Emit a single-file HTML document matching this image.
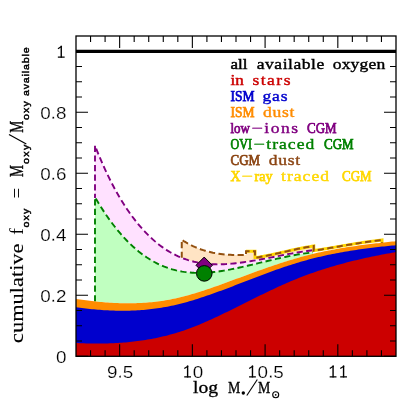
<!DOCTYPE html>
<html><head><meta charset="utf-8"><title>chart</title>
<style>html,body{margin:0;padding:0;background:#fff;}svg{display:block;will-change:transform;}</style></head>
<body>
<svg width="399" height="399" viewBox="0 0 399 399">
<rect width="399" height="399" fill="#fff"/>
<polygon points="181.75,239.79 183.70,241.04 185.64,242.22 187.59,243.34 189.54,244.39 191.48,245.38 193.43,246.31 195.38,247.18 197.33,247.99 199.27,248.75 201.22,249.46 203.17,250.11 205.11,250.71 207.06,251.27 209.01,251.78 210.95,252.24 212.90,252.67 214.85,253.05 216.80,253.39 218.74,253.69 220.69,253.96 222.64,254.20 224.58,254.40 226.53,254.58 228.48,254.72 230.42,254.84 232.37,254.94 234.32,255.01 236.27,255.06 238.21,255.09 240.16,255.11 242.11,255.11 244.05,255.09 246.00,255.07 246.00,251.25 255.00,251.25 255.00,257.80 256.96,257.49 258.92,257.16 260.88,256.81 262.83,256.45 264.79,256.08 266.75,255.69 268.71,255.29 270.67,254.88 272.62,254.46 274.58,254.03 276.54,253.60 278.50,253.16 280.46,252.72 282.42,252.28 284.38,251.84 286.33,251.40 288.29,250.96 290.25,250.52 292.21,250.09 294.17,249.66 296.12,249.24 298.08,248.83 300.04,248.43 302.00,248.04 303.96,247.67 305.92,247.30 307.88,246.95 309.83,246.62 311.79,246.31 313.75,246.01 313.00,250.22 311.02,250.46 309.04,250.71 307.05,250.98 305.07,251.27 303.09,251.56 301.11,251.87 299.13,252.19 297.15,252.52 295.16,252.86 293.18,253.21 291.20,253.56 289.22,253.92 287.24,254.29 285.25,254.66 283.27,255.04 281.29,255.42 279.31,255.81 277.33,256.19 275.35,256.58 273.36,256.97 271.38,257.35 269.40,257.74 267.42,258.12 265.44,258.50 263.45,258.87 261.47,259.24 259.49,259.61 257.51,259.97 255.53,260.32 253.55,260.66 251.56,260.99 249.58,261.32 247.60,261.63 245.62,261.93 243.64,262.22 241.65,262.50 239.67,262.76 237.69,263.01 235.71,263.24 233.73,263.45 231.75,263.64 229.76,263.81 227.78,263.97 225.80,264.09 223.82,264.19 221.84,264.27 219.85,264.32 217.87,264.34 215.89,264.32 213.91,264.28 211.93,264.20 209.95,264.09 207.96,263.94 205.98,263.75 204.00,263.52 202.02,263.25 200.04,262.94 198.05,262.59 196.07,262.19 194.09,261.75 192.11,261.25 190.13,260.71 188.15,260.12 186.16,259.47 184.18,258.77 182.20,258.02 181.75,257.83" fill="#ffe4c4"/>
<polygon points="95.00,145.57 96.98,150.58 98.96,155.43 100.95,160.13 102.93,164.67 104.91,169.07 106.89,173.32 108.87,177.44 110.85,181.41 112.84,185.25 114.82,188.96 116.80,192.54 118.78,196.01 120.76,199.35 122.75,202.57 124.73,205.68 126.71,208.68 128.69,211.58 130.67,214.37 132.65,217.06 134.64,219.66 136.62,222.17 138.60,224.58 140.58,226.91 142.56,229.15 144.55,231.31 146.53,233.38 148.51,235.37 150.49,237.28 152.47,239.11 154.45,240.87 156.44,242.54 158.42,244.14 160.40,245.67 162.38,247.13 164.36,248.51 166.35,249.83 168.33,251.07 170.31,252.25 172.29,253.37 174.27,254.42 176.25,255.41 178.24,256.34 180.22,257.21 182.20,258.02 184.18,258.77 186.16,259.47 188.15,260.12 190.13,260.71 192.11,261.25 194.09,261.75 196.07,262.19 198.05,262.59 200.04,262.94 202.02,263.25 204.00,263.52 205.98,263.75 207.96,263.94 209.95,264.09 211.93,264.20 213.91,264.28 215.89,264.32 217.87,264.34 219.85,264.32 221.84,264.27 223.82,264.19 225.80,264.09 227.78,263.97 229.76,263.81 231.75,263.64 233.73,263.45 235.71,263.24 237.69,263.01 239.67,262.76 241.65,262.50 243.64,262.22 245.62,261.93 247.60,261.63 249.58,261.32 251.56,260.99 253.55,260.66 255.53,260.32 257.51,259.97 259.49,259.61 261.47,259.24 263.45,258.87 265.44,258.50 267.42,258.12 269.40,257.74 271.38,257.35 273.36,256.97 275.35,256.58 277.33,256.19 279.31,255.81 281.29,255.42 283.27,255.04 285.25,254.66 287.24,254.29 289.22,253.92 291.20,253.56 293.18,253.21 295.16,252.86 297.15,252.52 299.13,252.19 301.11,251.87 303.09,251.56 305.07,251.27 307.05,250.98 309.04,250.71 311.02,250.46 313.00,250.22 313.00,252.38 311.02,252.60 309.04,252.84 307.05,253.10 305.07,253.37 303.09,253.66 301.11,253.97 299.13,254.30 297.15,254.64 295.16,254.99 293.18,255.36 291.20,255.74 289.22,256.13 287.24,256.54 285.25,256.95 283.27,257.37 281.29,257.80 279.31,258.24 277.33,258.69 275.35,259.14 273.36,259.60 271.38,260.07 269.40,260.54 267.42,261.01 265.44,261.48 263.45,261.96 261.47,262.43 259.49,262.91 257.51,263.39 255.53,263.86 253.55,264.34 251.56,264.81 249.58,265.28 247.60,265.74 245.62,266.20 243.64,266.65 241.65,267.10 239.67,267.53 237.69,267.96 235.71,268.39 233.73,268.80 231.75,269.19 229.76,269.58 227.78,269.95 225.80,270.30 223.82,270.64 221.84,270.96 219.85,271.26 217.87,271.54 215.89,271.80 213.91,272.03 211.93,272.24 209.95,272.42 207.96,272.58 205.98,272.71 204.00,272.81 202.02,272.88 200.04,272.91 198.05,272.92 196.07,272.88 194.09,272.82 192.11,272.71 190.13,272.57 188.15,272.39 186.16,272.16 184.18,271.90 182.20,271.59 180.22,271.23 178.24,270.83 176.25,270.39 174.27,269.89 172.29,269.35 170.31,268.75 168.33,268.10 166.35,267.40 164.36,266.65 162.38,265.84 160.40,264.98 158.42,264.05 156.44,263.07 154.45,262.03 152.47,260.92 150.49,259.76 148.51,258.53 146.53,257.24 144.55,255.88 142.56,254.45 140.58,252.95 138.60,251.39 136.62,249.75 134.64,248.05 132.65,246.27 130.67,244.41 128.69,242.48 126.71,240.48 124.73,238.39 122.75,236.23 120.76,233.99 118.78,231.67 116.80,229.27 114.82,226.79 112.84,224.23 110.85,221.58 108.87,218.84 106.89,216.02 104.91,213.11 102.93,210.12 100.95,207.03 98.96,203.86 96.98,200.60 95.00,197.24" fill="#ffe1ff"/>
<polygon points="95.00,197.24 96.98,200.60 98.96,203.86 100.95,207.03 102.93,210.12 104.91,213.11 106.89,216.02 108.87,218.84 110.85,221.58 112.84,224.23 114.82,226.79 116.80,229.27 118.78,231.67 120.76,233.99 122.75,236.23 124.73,238.39 126.71,240.48 128.69,242.48 130.67,244.41 132.65,246.27 134.64,248.05 136.62,249.75 138.60,251.39 140.58,252.95 142.56,254.45 144.55,255.88 146.53,257.24 148.51,258.53 150.49,259.76 152.47,260.92 154.45,262.03 156.44,263.07 158.42,264.05 160.40,264.98 162.38,265.84 164.36,266.65 166.35,267.40 168.33,268.10 170.31,268.75 172.29,269.35 174.27,269.89 176.25,270.39 178.24,270.83 180.22,271.23 182.20,271.59 184.18,271.90 186.16,272.16 188.15,272.39 190.13,272.57 192.11,272.71 194.09,272.82 196.07,272.88 198.05,272.92 200.04,272.91 202.02,272.88 204.00,272.81 205.98,272.71 207.96,272.58 209.95,272.42 211.93,272.24 213.91,272.03 215.89,271.80 217.87,271.54 219.85,271.26 221.84,270.96 223.82,270.64 225.80,270.30 227.78,269.95 229.76,269.58 231.75,269.19 233.73,268.80 235.71,268.39 237.69,267.96 239.67,267.53 241.65,267.10 243.64,266.65 245.62,266.20 247.60,265.74 249.58,265.28 251.56,264.81 253.55,264.34 255.53,263.86 257.51,263.39 259.49,262.91 261.47,262.43 263.45,261.96 265.44,261.48 267.42,261.01 269.40,260.54 271.38,260.07 273.36,259.60 275.35,259.14 277.33,258.69 279.31,258.24 281.29,257.80 283.27,257.37 285.25,256.95 287.24,256.54 289.22,256.13 291.20,255.74 293.18,255.36 295.16,254.99 297.15,254.64 299.13,254.30 301.11,253.97 303.09,253.66 305.07,253.37 307.05,253.10 309.04,252.84 311.02,252.60 313.00,252.38 313.00,253.88 312.52,253.99 310.53,254.48 308.55,254.98 306.56,255.49 304.57,256.01 302.58,256.55 300.60,257.09 298.61,257.65 296.62,258.22 294.63,258.80 292.65,259.38 290.66,259.98 288.67,260.59 286.68,261.20 284.70,261.83 282.71,262.46 280.72,263.10 278.73,263.75 276.75,264.41 274.76,265.07 272.77,265.75 270.78,266.42 268.80,267.11 266.81,267.80 264.82,268.49 262.83,269.19 260.84,269.90 258.86,270.60 256.87,271.32 254.88,272.04 252.89,272.76 250.91,273.48 248.92,274.21 246.93,274.94 244.94,275.67 242.96,276.41 240.97,277.14 238.98,277.88 236.99,278.62 235.01,279.35 233.02,280.09 231.03,280.83 229.04,281.56 227.06,282.30 225.07,283.03 223.08,283.75 221.09,284.47 219.11,285.19 217.12,285.90 215.13,286.61 213.14,287.30 211.16,288.00 209.17,288.68 207.18,289.35 205.19,290.02 203.20,290.67 201.22,291.31 199.23,291.95 197.24,292.57 195.25,293.17 193.27,293.77 191.28,294.35 189.29,294.92 187.30,295.47 185.32,296.00 183.33,296.52 181.34,297.02 179.35,297.51 177.37,297.97 175.38,298.42 173.39,298.84 171.40,299.25 169.42,299.64 167.43,300.00 165.44,300.35 163.45,300.67 161.47,300.97 159.48,301.25 157.49,301.51 155.50,301.76 153.52,301.98 151.53,302.19 149.54,302.37 147.55,302.54 145.57,302.69 143.58,302.82 141.59,302.94 139.60,303.04 137.61,303.12 135.63,303.18 133.64,303.23 131.65,303.27 129.66,303.28 127.68,303.28 125.69,303.27 123.70,303.24 121.71,303.20 119.73,303.15 117.74,303.08 115.75,302.99 113.76,302.90 111.78,302.79 109.79,302.67 107.80,302.53 105.81,302.39 103.83,302.23 101.84,302.06 99.85,301.88 97.86,301.69 95.88,301.49 95.00,301.40" fill="#c0ffc0"/>
<polyline points="246.00,251.25 255.00,251.25 255.00,257.50 256.96,257.49 258.92,257.16 260.88,256.81 262.83,256.45 264.79,256.08 266.75,255.69 268.71,255.29 270.67,254.88 272.62,254.46 274.58,254.03 276.54,253.60 278.50,253.16 280.46,252.72 282.42,252.28 284.38,251.84 286.33,251.40 288.29,250.96 290.25,250.52 292.21,250.09 294.17,249.66 296.12,249.24 298.08,248.83 300.04,248.43 302.00,248.04 303.96,247.67 305.92,247.30 307.88,246.95 309.83,246.62 311.79,246.31 313.75,246.01 313.75,250.60 315.70,250.32 317.65,250.02 319.60,249.72 321.55,249.40 323.50,249.09 325.45,248.77 327.40,248.44 329.35,248.11 331.30,247.78 333.25,247.45 335.20,247.12 337.15,246.78 339.10,246.45 341.05,246.11 343.00,245.78 344.95,245.44 346.90,245.11 348.85,244.78 350.80,244.45 352.75,244.13 354.70,243.81 356.65,243.49 358.60,243.18 360.55,242.88 362.50,242.58 364.45,242.28 366.40,242.00 368.35,241.72 370.30,241.45 372.25,241.19 374.20,240.93 376.15,240.69 378.10,240.46 380.05,240.23 382.00,240.02 382.00,243.00" fill="none" stroke="#ffd700" stroke-width="3" stroke-linejoin="miter"/>
<polyline points="95.00,198.00 95.00,145.57 96.98,150.58 98.96,155.43 100.95,160.13 102.93,164.67 104.91,169.07 106.89,173.32 108.87,177.44 110.85,181.41 112.84,185.25 114.82,188.96 116.80,192.54 118.78,196.01 120.76,199.35 122.75,202.57 124.73,205.68 126.71,208.68 128.69,211.58 130.67,214.37 132.65,217.06 134.64,219.66 136.62,222.17 138.60,224.58 140.58,226.91 142.56,229.15 144.55,231.31 146.53,233.38 148.51,235.37 150.49,237.28 152.47,239.11 154.45,240.87 156.44,242.54 158.42,244.14 160.40,245.67 162.38,247.13 164.36,248.51 166.35,249.83 168.33,251.07 170.31,252.25 172.29,253.37 174.27,254.42 176.25,255.41 178.24,256.34 180.22,257.21 182.20,258.02 184.18,258.77 186.16,259.47 188.15,260.12 190.13,260.71 192.11,261.25 194.09,261.75 196.07,262.19 198.05,262.59 200.04,262.94 202.02,263.25 204.00,263.52 205.98,263.75 207.96,263.94 209.95,264.09 211.93,264.20 213.91,264.28 215.89,264.32 217.87,264.34 219.85,264.32 221.84,264.27 223.82,264.19 225.80,264.09 227.78,263.97 229.76,263.81 231.75,263.64 233.73,263.45 235.71,263.24 237.69,263.01 239.67,262.76 241.65,262.50 243.64,262.22 245.62,261.93 247.60,261.63 249.58,261.32 251.56,260.99 253.55,260.66 255.53,260.32 257.51,259.97 259.49,259.61 261.47,259.24 263.45,258.87 265.44,258.50 267.42,258.12 269.40,257.74 271.38,257.35 273.36,256.97 275.35,256.58 277.33,256.19 279.31,255.81 281.29,255.42 283.27,255.04 285.25,254.66 287.24,254.29 289.22,253.92 291.20,253.56 293.18,253.21 295.16,252.86 297.15,252.52 299.13,252.19 301.11,251.87 303.09,251.56 305.07,251.27 307.05,250.98 309.04,250.71 311.02,250.46 313.00,250.22" fill="none" stroke="#800080" stroke-width="1.9" stroke-dasharray="6.2,3.4" stroke-dashoffset="2"/>
<polyline points="95.00,301.40 95.00,197.24 96.98,200.60 98.96,203.86 100.95,207.03 102.93,210.12 104.91,213.11 106.89,216.02 108.87,218.84 110.85,221.58 112.84,224.23 114.82,226.79 116.80,229.27 118.78,231.67 120.76,233.99 122.75,236.23 124.73,238.39 126.71,240.48 128.69,242.48 130.67,244.41 132.65,246.27 134.64,248.05 136.62,249.75 138.60,251.39 140.58,252.95 142.56,254.45 144.55,255.88 146.53,257.24 148.51,258.53 150.49,259.76 152.47,260.92 154.45,262.03 156.44,263.07 158.42,264.05 160.40,264.98 162.38,265.84 164.36,266.65 166.35,267.40 168.33,268.10 170.31,268.75 172.29,269.35 174.27,269.89 176.25,270.39 178.24,270.83 180.22,271.23 182.20,271.59 184.18,271.90 186.16,272.16 188.15,272.39 190.13,272.57 192.11,272.71 194.09,272.82 196.07,272.88 198.05,272.92 200.04,272.91 202.02,272.88 204.00,272.81 205.98,272.71 207.96,272.58 209.95,272.42 211.93,272.24 213.91,272.03 215.89,271.80 217.87,271.54 219.85,271.26 221.84,270.96 223.82,270.64 225.80,270.30 227.78,269.95 229.76,269.58 231.75,269.19 233.73,268.80 235.71,268.39 237.69,267.96 239.67,267.53 241.65,267.10 243.64,266.65 245.62,266.20 247.60,265.74 249.58,265.28 251.56,264.81 253.55,264.34 255.53,263.86 257.51,263.39 259.49,262.91 261.47,262.43 263.45,261.96 265.44,261.48 267.42,261.01 269.40,260.54 271.38,260.07 273.36,259.60 275.35,259.14 277.33,258.69 279.31,258.24 281.29,257.80 283.27,257.37 285.25,256.95 287.24,256.54 289.22,256.13 291.20,255.74 293.18,255.36 295.16,254.99 297.15,254.64 299.13,254.30 301.11,253.97 303.09,253.66 305.07,253.37 307.05,253.10 309.04,252.84 311.02,252.60 313.00,252.38" fill="none" stroke="#008000" stroke-width="1.9" stroke-dasharray="6.2,3.4"/>
<polyline points="181.75,257.83 181.75,239.79 183.70,241.04 185.64,242.22 187.59,243.34 189.54,244.39 191.48,245.38 193.43,246.31 195.38,247.18 197.33,247.99 199.27,248.75 201.22,249.46 203.17,250.11 205.11,250.71 207.06,251.27 209.01,251.78 210.95,252.24 212.90,252.67 214.85,253.05 216.80,253.39 218.74,253.69 220.69,253.96 222.64,254.20 224.58,254.40 226.53,254.58 228.48,254.72 230.42,254.84 232.37,254.94 234.32,255.01 236.27,255.06 238.21,255.09 240.16,255.11 242.11,255.11 244.05,255.09 246.00,255.07 246.00,251.25 255.00,251.25 255.00,257.50 256.96,257.49 258.92,257.16 260.88,256.81 262.83,256.45 264.79,256.08 266.75,255.69 268.71,255.29 270.67,254.88 272.62,254.46 274.58,254.03 276.54,253.60 278.50,253.16 280.46,252.72 282.42,252.28 284.38,251.84 286.33,251.40 288.29,250.96 290.25,250.52 292.21,250.09 294.17,249.66 296.12,249.24 298.08,248.83 300.04,248.43 302.00,248.04 303.96,247.67 305.92,247.30 307.88,246.95 309.83,246.62 311.79,246.31 313.75,246.01 313.75,250.60 315.70,250.32 317.65,250.02 319.60,249.72 321.55,249.40 323.50,249.09 325.45,248.77 327.40,248.44 329.35,248.11 331.30,247.78 333.25,247.45 335.20,247.12 337.15,246.78 339.10,246.45 341.05,246.11 343.00,245.78 344.95,245.44 346.90,245.11 348.85,244.78 350.80,244.45 352.75,244.13 354.70,243.81 356.65,243.49 358.60,243.18 360.55,242.88 362.50,242.58 364.45,242.28 366.40,242.00 368.35,241.72 370.30,241.45 372.25,241.19 374.20,240.93 376.15,240.69 378.10,240.46 380.05,240.23 382.00,240.02 382.00,243.00" fill="none" stroke="#935010" stroke-width="2" stroke-dasharray="6.2,3.4"/>
<polygon points="76.00,298.98 77.99,299.27 79.98,299.55 81.96,299.82 83.95,300.09 85.94,300.34 87.93,300.59 89.91,300.83 91.90,301.06 93.89,301.28 95.88,301.49 97.86,301.69 99.85,301.88 101.84,302.06 103.83,302.23 105.81,302.39 107.80,302.53 109.79,302.67 111.78,302.79 113.76,302.90 115.75,302.99 117.74,303.08 119.73,303.15 121.71,303.20 123.70,303.24 125.69,303.27 127.68,303.28 129.66,303.28 131.65,303.27 133.64,303.23 135.63,303.18 137.61,303.12 139.60,303.04 141.59,302.94 143.58,302.82 145.57,302.69 147.55,302.54 149.54,302.37 151.53,302.19 153.52,301.98 155.50,301.76 157.49,301.51 159.48,301.25 161.47,300.97 163.45,300.67 165.44,300.35 167.43,300.00 169.42,299.64 171.40,299.25 173.39,298.84 175.38,298.42 177.37,297.97 179.35,297.51 181.34,297.02 183.33,296.52 185.32,296.00 187.30,295.47 189.29,294.92 191.28,294.35 193.27,293.77 195.25,293.17 197.24,292.57 199.23,291.95 201.22,291.31 203.20,290.67 205.19,290.02 207.18,289.35 209.17,288.68 211.16,288.00 213.14,287.30 215.13,286.61 217.12,285.90 219.11,285.19 221.09,284.47 223.08,283.75 225.07,283.03 227.06,282.30 229.04,281.56 231.03,280.83 233.02,280.09 235.01,279.35 236.99,278.62 238.98,277.88 240.97,277.14 242.96,276.41 244.94,275.67 246.93,274.94 248.92,274.21 250.91,273.48 252.89,272.76 254.88,272.04 256.87,271.32 258.86,270.60 260.84,269.90 262.83,269.19 264.82,268.49 266.81,267.80 268.80,267.11 270.78,266.42 272.77,265.75 274.76,265.07 276.75,264.41 278.73,263.75 280.72,263.10 282.71,262.46 284.70,261.83 286.68,261.20 288.67,260.59 290.66,259.98 292.65,259.38 294.63,258.80 296.62,258.22 298.61,257.65 300.60,257.09 302.58,256.55 304.57,256.01 306.56,255.49 308.55,254.98 310.53,254.48 312.52,253.99 314.51,253.52 316.50,253.06 318.48,252.61 320.47,252.17 322.46,251.74 324.45,251.32 326.43,250.92 328.42,250.52 330.41,250.13 332.40,249.76 334.39,249.39 336.37,249.03 338.36,248.68 340.35,248.34 342.34,248.01 344.32,247.68 346.31,247.37 348.30,247.06 350.29,246.76 352.27,246.46 354.26,246.17 356.25,245.89 358.24,245.62 360.22,245.35 362.21,245.08 364.20,244.82 366.19,244.57 368.17,244.32 370.16,244.08 372.15,243.84 374.14,243.60 376.12,243.37 378.11,243.14 380.10,242.91 382.09,242.69 384.07,242.47 386.06,242.25 388.05,242.03 390.04,241.82 392.02,241.60 394.01,241.39 396.00,241.18 396.00,356.30 76.00,356.30" fill="#ff8c00"/>
<polygon points="76.00,307.19 77.99,307.47 79.98,307.74 81.96,308.00 83.95,308.25 85.94,308.49 87.93,308.72 89.91,308.93 91.90,309.14 93.89,309.34 95.88,309.52 97.86,309.69 99.85,309.85 101.84,310.00 103.83,310.13 105.81,310.26 107.80,310.37 109.79,310.46 111.78,310.55 113.76,310.62 115.75,310.67 117.74,310.72 119.73,310.74 121.71,310.76 123.70,310.76 125.69,310.74 127.68,310.71 129.66,310.67 131.65,310.61 133.64,310.53 135.63,310.44 137.61,310.33 139.60,310.21 141.59,310.07 143.58,309.91 145.57,309.74 147.55,309.55 149.54,309.34 151.53,309.11 153.52,308.87 155.50,308.61 157.49,308.33 159.48,308.03 161.47,307.71 163.45,307.37 165.44,307.02 167.43,306.64 169.42,306.25 171.40,305.84 173.39,305.41 175.38,304.95 177.37,304.48 179.35,304.00 181.34,303.49 183.33,302.97 185.32,302.43 187.30,301.88 189.29,301.31 191.28,300.73 193.27,300.13 195.25,299.52 197.24,298.90 199.23,298.26 201.22,297.62 203.20,296.96 205.19,296.29 207.18,295.61 209.17,294.93 211.16,294.23 213.14,293.53 215.13,292.81 217.12,292.09 219.11,291.37 221.09,290.63 223.08,289.89 225.07,289.15 227.06,288.40 229.04,287.65 231.03,286.89 233.02,286.14 235.01,285.37 236.99,284.61 238.98,283.85 240.97,283.08 242.96,282.31 244.94,281.55 246.93,280.78 248.92,280.02 250.91,279.25 252.89,278.49 254.88,277.73 256.87,276.97 258.86,276.21 260.84,275.46 262.83,274.71 264.82,273.97 266.81,273.23 268.80,272.50 270.78,271.77 272.77,271.05 274.76,270.33 276.75,269.62 278.73,268.92 280.72,268.23 282.71,267.55 284.70,266.87 286.68,266.20 288.67,265.55 290.66,264.90 292.65,264.27 294.63,263.64 296.62,263.03 298.61,262.43 300.60,261.84 302.58,261.27 304.57,260.71 306.56,260.16 308.55,259.62 310.53,259.09 312.52,258.58 314.51,258.08 316.50,257.58 318.48,257.10 320.47,256.64 322.46,256.18 324.45,255.73 326.43,255.30 328.42,254.87 330.41,254.45 332.40,254.05 334.39,253.65 336.37,253.27 338.36,252.89 340.35,252.52 342.34,252.16 344.32,251.82 346.31,251.47 348.30,251.14 350.29,250.82 352.27,250.50 354.26,250.19 356.25,249.89 358.24,249.60 360.22,249.32 362.21,249.04 364.20,248.77 366.19,248.50 368.17,248.25 370.16,248.00 372.15,247.75 374.14,247.51 376.12,247.28 378.11,247.05 380.10,246.83 382.09,246.62 384.07,246.41 386.06,246.20 388.05,246.00 390.04,245.80 392.02,245.61 394.01,245.42 396.00,245.24 396.00,356.30 76.00,356.30" fill="#0000cd"/>
<polygon points="76.00,343.01 77.99,343.10 79.98,343.19 81.96,343.27 83.95,343.34 85.94,343.40 87.93,343.45 89.91,343.49 91.90,343.53 93.89,343.55 95.88,343.56 97.86,343.57 99.85,343.56 101.84,343.54 103.83,343.51 105.81,343.47 107.80,343.42 109.79,343.36 111.78,343.28 113.76,343.19 115.75,343.09 117.74,342.98 119.73,342.85 121.71,342.72 123.70,342.56 125.69,342.40 127.68,342.22 129.66,342.03 131.65,341.82 133.64,341.60 135.63,341.36 137.61,341.11 139.60,340.84 141.59,340.56 143.58,340.26 145.57,339.95 147.55,339.62 149.54,339.27 151.53,338.91 153.52,338.53 155.50,338.13 157.49,337.72 159.48,337.29 161.47,336.84 163.45,336.37 165.44,335.89 167.43,335.38 169.42,334.86 171.40,334.32 173.39,333.76 175.38,333.18 177.37,332.58 179.35,331.96 181.34,331.32 183.33,330.66 185.32,329.98 187.30,329.28 189.29,328.55 191.28,327.81 193.27,327.05 195.25,326.27 197.24,325.47 199.23,324.66 201.22,323.82 203.20,322.98 205.19,322.12 207.18,321.24 209.17,320.35 211.16,319.45 213.14,318.54 215.13,317.61 217.12,316.68 219.11,315.74 221.09,314.79 223.08,313.83 225.07,312.86 227.06,311.89 229.04,310.91 231.03,309.93 233.02,308.94 235.01,307.95 236.99,306.96 238.98,305.97 240.97,304.97 242.96,303.98 244.94,302.98 246.93,301.99 248.92,301.00 250.91,300.01 252.89,299.02 254.88,298.04 256.87,297.05 258.86,296.08 260.84,295.10 262.83,294.13 264.82,293.17 266.81,292.21 268.80,291.26 270.78,290.32 272.77,289.38 274.76,288.45 276.75,287.53 278.73,286.62 280.72,285.72 282.71,284.82 284.70,283.94 286.68,283.07 288.67,282.21 290.66,281.36 292.65,280.52 294.63,279.70 296.62,278.89 298.61,278.09 300.60,277.31 302.58,276.54 304.57,275.78 306.56,275.04 308.55,274.31 310.53,273.59 312.52,272.88 314.51,272.19 316.50,271.51 318.48,270.84 320.47,270.18 322.46,269.53 324.45,268.90 326.43,268.27 328.42,267.66 330.41,267.06 332.40,266.47 334.39,265.89 336.37,265.31 338.36,264.75 340.35,264.20 342.34,263.66 344.32,263.13 346.31,262.61 348.30,262.09 350.29,261.59 352.27,261.10 354.26,260.61 356.25,260.13 358.24,259.66 360.22,259.20 362.21,258.75 364.20,258.30 366.19,257.87 368.17,257.44 370.16,257.01 372.15,256.60 374.14,256.19 376.12,255.79 378.11,255.39 380.10,255.00 382.09,254.62 384.07,254.24 386.06,253.87 388.05,253.51 390.04,253.15 392.02,252.80 394.01,252.45 396.00,252.10 396.00,356.30 76.00,356.30" fill="#cc0000"/>
<polygon points="204.2,257.1 212.4,265.3 204.2,273.5 196,265.3" fill="#800080" stroke="#000" stroke-width="1"/>
<circle cx="204.3" cy="273.4" r="7.8" fill="#008000" stroke="#000" stroke-width="1"/>
<line x1="76.0" x2="396.0" y1="51.3" y2="51.3" stroke="#000" stroke-width="3.2"/>
<rect x="76.0" y="36.0" width="320.0" height="320.3" fill="none" stroke="#000" stroke-width="1.3"/>
<path d="M90.55,356.3v-6M90.55,36.0v6M105.09,356.3v-6M105.09,36.0v6M119.64,356.3v-12M119.64,36.0v12M134.18,356.3v-6M134.18,36.0v6M148.73,356.3v-6M148.73,36.0v6M163.27,356.3v-6M163.27,36.0v6M177.82,356.3v-6M177.82,36.0v6M192.36,356.3v-12M192.36,36.0v12M206.91,356.3v-6M206.91,36.0v6M221.45,356.3v-6M221.45,36.0v6M236.00,356.3v-6M236.00,36.0v6M250.55,356.3v-6M250.55,36.0v6M265.09,356.3v-12M265.09,36.0v12M279.64,356.3v-6M279.64,36.0v6M294.18,356.3v-6M294.18,36.0v6M308.73,356.3v-6M308.73,36.0v6M323.27,356.3v-6M323.27,36.0v6M337.82,356.3v-12M337.82,36.0v12M352.36,356.3v-6M352.36,36.0v6M366.91,356.3v-6M366.91,36.0v6M381.45,356.3v-6M381.45,36.0v6M76.0,356.30h12M396.0,356.30h-12M76.0,341.05h6M396.0,341.05h-6M76.0,325.80h6M396.0,325.80h-6M76.0,310.54h6M396.0,310.54h-6M76.0,295.29h12M396.0,295.29h-12M76.0,280.04h6M396.0,280.04h-6M76.0,264.79h6M396.0,264.79h-6M76.0,249.53h6M396.0,249.53h-6M76.0,234.28h12M396.0,234.28h-12M76.0,219.03h6M396.0,219.03h-6M76.0,203.78h6M396.0,203.78h-6M76.0,188.52h6M396.0,188.52h-6M76.0,173.27h12M396.0,173.27h-12M76.0,158.02h6M396.0,158.02h-6M76.0,142.77h6M396.0,142.77h-6M76.0,127.51h6M396.0,127.51h-6M76.0,112.26h12M396.0,112.26h-12M76.0,97.01h6M396.0,97.01h-6M76.0,81.76h6M396.0,81.76h-6M76.0,66.50h6M396.0,66.50h-6M76.0,51.25h12M396.0,51.25h-12" stroke="#000" stroke-width="1.1" fill="none"/>
<g font-family="Liberation Sans, sans-serif" font-size="16.9" fill="#000" stroke="#fff" stroke-width="0.2">
<text x="106.91" y="377.50" textLength="10.5" lengthAdjust="spacingAndGlyphs">9</text>
<rect x="119.19" y="375.60" width="1.7" height="1.9" fill="#000"/>
<text x="122.66" y="377.50" textLength="10.5" lengthAdjust="spacingAndGlyphs">5</text>
<path d="M187.61,365.50V377.50" stroke="#000" stroke-width="1.4" fill="none"/>
<path d="M184.21,376.90H191.01M184.31,368.50L188.21,366.00" stroke="#000" stroke-width="1.2" fill="none"/>
<text x="192.76" y="377.50" textLength="10.5" lengthAdjust="spacingAndGlyphs">0</text>
<path d="M252.47,365.50V377.50" stroke="#000" stroke-width="1.4" fill="none"/>
<path d="M249.07,376.90H255.87M249.17,368.50L253.07,366.00" stroke="#000" stroke-width="1.2" fill="none"/>
<text x="257.62" y="377.50" textLength="10.5" lengthAdjust="spacingAndGlyphs">0</text>
<rect x="269.89" y="375.60" width="1.7" height="1.9" fill="#000"/>
<text x="273.37" y="377.50" textLength="10.5" lengthAdjust="spacingAndGlyphs">5</text>
<path d="M333.07,365.50V377.50" stroke="#000" stroke-width="1.4" fill="none"/>
<path d="M329.67,376.90H336.47M329.77,368.50L333.67,366.00" stroke="#000" stroke-width="1.2" fill="none"/>
<path d="M343.57,365.50V377.50" stroke="#000" stroke-width="1.4" fill="none"/>
<path d="M340.17,376.90H346.97M340.27,368.50L344.17,366.00" stroke="#000" stroke-width="1.2" fill="none"/>
<text x="55.90" y="362.70" textLength="10.5" lengthAdjust="spacingAndGlyphs">0</text>
<text x="40.15" y="301.69" textLength="10.5" lengthAdjust="spacingAndGlyphs">0</text>
<rect x="52.43" y="299.79" width="1.7" height="1.9" fill="#000"/>
<text x="55.90" y="301.69" textLength="10.5" lengthAdjust="spacingAndGlyphs">2</text>
<text x="40.15" y="240.68" textLength="10.5" lengthAdjust="spacingAndGlyphs">0</text>
<rect x="52.43" y="238.78" width="1.7" height="1.9" fill="#000"/>
<text x="55.90" y="240.68" textLength="10.5" lengthAdjust="spacingAndGlyphs">4</text>
<text x="40.15" y="179.67" textLength="10.5" lengthAdjust="spacingAndGlyphs">0</text>
<rect x="52.43" y="177.77" width="1.7" height="1.9" fill="#000"/>
<text x="55.90" y="179.67" textLength="10.5" lengthAdjust="spacingAndGlyphs">6</text>
<text x="40.15" y="118.66" textLength="10.5" lengthAdjust="spacingAndGlyphs">0</text>
<rect x="52.43" y="116.76" width="1.7" height="1.9" fill="#000"/>
<text x="55.90" y="118.66" textLength="10.5" lengthAdjust="spacingAndGlyphs">8</text>
<path d="M61.25,45.65V57.65" stroke="#000" stroke-width="1.4" fill="none"/>
<path d="M57.85,57.05H64.65M57.95,48.65L61.85,46.15" stroke="#000" stroke-width="1.2" fill="none"/>
</g>
<g font-family="Liberation Serif, serif" fill="#000" stroke="#000" stroke-width="0.3" font-size="17">
<text x="193" y="392.7" textLength="25" lengthAdjust="spacingAndGlyphs">log</text>
<text x="228" y="392.7" textLength="12.3" lengthAdjust="spacingAndGlyphs">M</text>
<circle cx="243.3" cy="393" r="1.7" stroke="none"/>
<line x1="246.8" y1="395.5" x2="257.3" y2="379.5" stroke-width="1.1"/>
<text x="258.1" y="392.7" textLength="12.3" lengthAdjust="spacingAndGlyphs">M</text>
<circle cx="275.7" cy="394.8" r="3.0" fill="none" stroke-width="1.1"/><circle cx="275.7" cy="394.8" r="0.9" stroke="none"/>
</g>
<g transform="translate(23.4,343) rotate(-90)" fill="#000">
<text x="0" y="0" font-family="Liberation Serif, serif" font-size="19" stroke="#000" stroke-width="0.15" textLength="99.5" lengthAdjust="spacingAndGlyphs">cumulative</text>
<text x="108.3" y="0" font-family="Liberation Serif, serif" font-size="19" stroke="#000" stroke-width="0" textLength="6.6" lengthAdjust="spacingAndGlyphs">f</text>
<text x="115.4" y="6" font-family="Liberation Sans, sans-serif" font-size="10.6" stroke="#000" stroke-width="0.5" textLength="18.8" lengthAdjust="spacing" transform="translate(0,6) scale(1,0.93) translate(0,-6)">oxy</text>
<text x="144.6" y="0" font-family="Liberation Serif, serif" font-size="19" stroke="#000" stroke-width="0" textLength="10.8" lengthAdjust="spacingAndGlyphs">=</text>
<text x="166" y="0" font-family="Liberation Serif, serif" font-size="19" stroke="#000" stroke-width="0.4" textLength="12" lengthAdjust="spacingAndGlyphs">M</text>
<text x="179" y="6" font-family="Liberation Sans, sans-serif" font-size="10.6" stroke="#000" stroke-width="0.5" textLength="19.3" lengthAdjust="spacing" transform="translate(0,6) scale(1,0.93) translate(0,-6)">oxy</text>
<text x="210.2" y="0" font-family="Liberation Serif, serif" font-size="19" stroke="#000" stroke-width="0.4" textLength="12" lengthAdjust="spacingAndGlyphs">M</text>
<text x="222.9" y="6" font-family="Liberation Sans, sans-serif" font-size="10.6" stroke="#000" stroke-width="0.5" textLength="18.8" lengthAdjust="spacing" transform="translate(0,6) scale(1,0.93) translate(0,-6)">oxy</text>
<text x="247" y="6" font-family="Liberation Sans, sans-serif" font-size="10.6" stroke="#000" stroke-width="0.5" textLength="48.6" lengthAdjust="spacing" transform="translate(0,6) scale(1,0.93) translate(0,-6)">available</text>
<line x1="198.9" y1="2.9" x2="208.6" y2="-14.4" stroke="#000" stroke-width="1.2"/>
</g>
<g font-family="Liberation Serif, serif" font-size="15" stroke-width="0.35">
<text x="230.5" y="69.0" fill="#000" stroke="#000" stroke-width="0.49" textLength="17" lengthAdjust="spacingAndGlyphs">all</text>
<text transform="translate(256.75,69.0) scale(1.17,1)" x="0" y="0" fill="#000" stroke="#000" stroke-width="0.4" textLength="57.69" lengthAdjust="spacing">available</text>
<text transform="translate(332.75,69.0) scale(1.17,1)" x="0" y="0" fill="#000" stroke="#000" stroke-width="0.4" textLength="44.87" lengthAdjust="spacing">oxygen</text>
<text x="230.5" y="85.0" fill="#cc0000" stroke="#cc0000" stroke-width="0.49" textLength="13.25" lengthAdjust="spacingAndGlyphs">in</text>
<text transform="translate(252.5,85.0) scale(1.17,1)" x="0" y="0" fill="#cc0000" stroke="#cc0000" stroke-width="0.4" textLength="32.48" lengthAdjust="spacing">stars</text>
<text x="230.5" y="101.0" fill="#0000cd" stroke="#0000cd" stroke-width="0.75" textLength="24" lengthAdjust="spacingAndGlyphs">ISM</text>
<text transform="translate(262.5,101.0) scale(1.17,1)" x="0" y="0" fill="#0000cd" stroke="#0000cd" stroke-width="0.4" textLength="21.37" lengthAdjust="spacing">gas</text>
<text x="230.5" y="117.0" fill="#ff8c00" stroke="#ff8c00" stroke-width="0.75" textLength="24" lengthAdjust="spacingAndGlyphs">ISM</text>
<text transform="translate(263,117.0) scale(1.17,1)" x="0" y="0" fill="#ff8c00" stroke="#ff8c00" stroke-width="0.4" textLength="26.92" lengthAdjust="spacing">dust</text>
<text x="230.5" y="133.0" fill="#800080" stroke="#800080" stroke-width="0.75" textLength="19.5" lengthAdjust="spacingAndGlyphs">low</text>
<text x="251.25" y="133.0" fill="#800080" stroke="#800080" stroke-width="0.30" textLength="11.5" lengthAdjust="spacingAndGlyphs">−</text>
<text transform="translate(264.25,133.0) scale(1.17,1)" x="0" y="0" fill="#800080" stroke="#800080" stroke-width="0.4" textLength="28.85" lengthAdjust="spacing">ions</text>
<text x="307" y="133.0" fill="#800080" stroke="#800080" stroke-width="0.75" textLength="29.5" lengthAdjust="spacingAndGlyphs">CGM</text>
<text x="230.5" y="149.0" fill="#008000" stroke="#008000" stroke-width="0.75" textLength="21.5" lengthAdjust="spacingAndGlyphs">OVI</text>
<text x="253.25" y="149.0" fill="#008000" stroke="#008000" stroke-width="0.30" textLength="11.5" lengthAdjust="spacingAndGlyphs">−</text>
<text transform="translate(266.25,149.0) scale(1.17,1)" x="0" y="0" fill="#008000" stroke="#008000" stroke-width="0.4" textLength="41.03" lengthAdjust="spacing">traced</text>
<text x="324" y="149.0" fill="#008000" stroke="#008000" stroke-width="0.75" textLength="29.5" lengthAdjust="spacingAndGlyphs">CGM</text>
<text x="230.5" y="165.0" fill="#8b4513" stroke="#8b4513" stroke-width="0.75" textLength="29.5" lengthAdjust="spacingAndGlyphs">CGM</text>
<text transform="translate(268.75,165.0) scale(1.17,1)" x="0" y="0" fill="#8b4513" stroke="#8b4513" stroke-width="0.4" textLength="26.92" lengthAdjust="spacing">dust</text>
<text x="230.5" y="181.0" fill="#ffd700" stroke="#ffd700" stroke-width="0.75" textLength="10" lengthAdjust="spacingAndGlyphs">X</text>
<text x="241.25" y="181.0" fill="#ffd700" stroke="#ffd700" stroke-width="0.30" textLength="11.5" lengthAdjust="spacingAndGlyphs">−</text>
<text x="254.5" y="181.0" fill="#ffd700" stroke="#ffd700" stroke-width="0.75" textLength="18" lengthAdjust="spacingAndGlyphs">ray</text>
<text transform="translate(281,181.0) scale(1.17,1)" x="0" y="0" fill="#ffd700" stroke="#ffd700" stroke-width="0.4" textLength="41.03" lengthAdjust="spacing">traced</text>
<text x="342" y="181.0" fill="#ffd700" stroke="#ffd700" stroke-width="0.75" textLength="29.5" lengthAdjust="spacingAndGlyphs">CGM</text>
</g>
</svg>
</body></html>
